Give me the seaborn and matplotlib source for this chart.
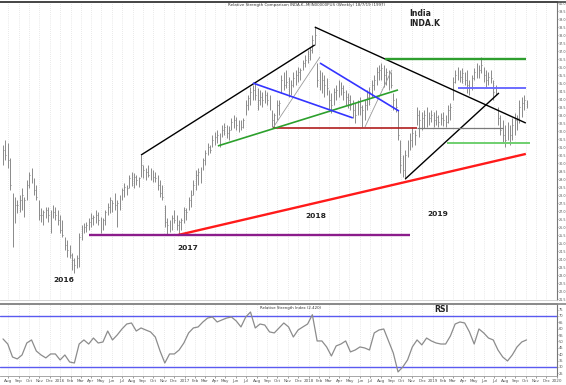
import numpy as np
import pandas as pd
import matplotlib
matplotlib.use("Agg")
import matplotlib.pyplot as plt
import matplotlib.dates as mdates
import matplotlib.ticker as mticker
import seaborn as sns
from matplotlib.lines import Line2D

sns.set_style("white")
plt.rcParams["font.family"] = ["DejaVu Sans"]

# ---------------- data ----------------
start_date = "2015-07-17"

high = [31.14, 31.45, 31.26, 30.33, 28.14, 27.89, 27.70, 28.01, 28.45, 27.89,
        28.95, 29.45, 29.70, 29.08, 28.64, 27.70, 27.20, 27.08, 27.26, 27.26,
        27.08, 27.39, 27.26, 27.08, 26.76, 26.45, 25.39, 25.20, 24.89, 24.39,
        24.08, 24.26, 25.64, 26.14, 26.26, 26.33, 26.58, 26.89, 26.76, 27.08,
        26.95, 26.64, 26.58, 27.08, 27.51, 27.89, 27.70, 28.14, 27.70, 28.01,
        28.45, 28.76, 28.64, 29.26, 29.45, 29.39, 29.26, 29.14, 30.51, 29.89,
        29.70, 29.89, 29.70, 29.58, 29.45, 29.26, 28.95, 28.64, 27.39, 26.58,
        26.45, 26.76, 27.08, 26.76, 26.45, 26.58, 27.26, 27.20, 27.89, 28.33,
        28.95, 29.58, 29.70, 29.76, 30.33, 30.83, 31.26, 31.14, 31.76, 31.95,
        32.08, 31.89, 32.39, 32.51, 32.39, 32.33, 32.83, 33.01, 32.89, 32.70,
        32.70, 32.83, 33.95, 34.26, 34.76, 34.89, 35.08, 34.70, 34.58, 34.45,
        34.58, 34.45, 34.26, 33.33, 33.14, 33.95, 33.95, 35.51, 35.70, 35.83,
        35.39, 35.20, 35.70, 35.83, 36.01, 35.95, 36.45, 36.76, 37.08, 37.26,
        38.01, 38.51, 36.26, 35.83, 35.70, 35.51, 35.33, 34.58, 34.39, 34.70,
        34.89, 35.20, 35.08, 34.89, 34.58, 34.39, 34.26, 33.95, 33.76, 33.95,
        34.14, 33.64, 33.95, 34.58, 34.76, 35.20, 35.51, 36.01, 36.14, 36.26,
        36.14, 35.95, 35.83, 35.70, 34.39, 34.08, 33.33, 31.45, 30.51, 30.83,
        31.45, 31.89, 32.26, 32.08, 33.51, 33.33, 33.20, 33.33, 33.51, 33.20,
        33.33, 33.20, 33.33, 33.01, 33.14, 33.20, 33.01, 33.64, 33.76, 35.39,
        35.83, 36.01, 35.83, 35.95, 35.70, 35.83, 35.20, 35.51, 35.95, 36.26,
        36.14, 36.64, 36.01, 35.83, 35.70, 35.83, 35.20, 34.89, 33.51, 33.01,
        32.70, 32.39, 32.58, 32.39, 32.83, 33.14, 33.01, 33.95, 34.14, 34.26,
        33.95]

low = [29.89, 30.20, 29.70, 28.33, 24.76, 26.26, 26.89, 26.95, 27.08, 26.64,
       27.70, 28.45, 28.76, 28.01, 27.70, 26.45, 26.33, 26.14, 26.58, 26.33,
       25.64, 26.58, 26.45, 26.14, 25.64, 25.39, 24.58, 24.14, 24.08, 23.33,
       23.14, 23.45, 23.51, 25.20, 25.64, 25.70, 25.83, 26.01, 26.14, 26.26,
       26.14, 25.64, 25.83, 26.14, 26.76, 26.89, 26.95, 27.08, 26.01, 27.08,
       27.70, 27.89, 28.01, 28.45, 28.58, 28.45, 28.64, 28.51, 29.14, 29.08,
       28.95, 29.14, 28.95, 28.83, 28.83, 28.33, 27.89, 27.70, 26.01, 25.51,
       25.70, 25.83, 26.26, 25.83, 25.51, 25.83, 26.26, 26.45, 27.08, 27.26,
       28.01, 28.33, 28.64, 28.76, 29.58, 29.89, 30.51, 30.64, 31.01, 31.14,
       31.26, 31.01, 31.64, 31.76, 31.58, 31.45, 32.08, 32.20, 32.08, 31.95,
       32.08, 32.20, 33.01, 33.33, 33.64, 33.95, 33.95, 33.33, 33.64, 33.51,
       33.76, 33.64, 33.33, 32.26, 32.20, 32.70, 33.01, 34.39, 34.58, 34.70,
       34.14, 34.26, 34.76, 34.89, 35.08, 35.20, 35.83, 36.01, 36.26, 36.45,
       36.89, 37.39, 34.76, 34.58, 34.39, 34.14, 34.26, 33.33, 33.14, 33.64,
       33.95, 34.14, 34.26, 33.95, 33.64, 33.45, 33.33, 32.83, 32.51, 33.01,
       33.01, 32.26, 32.70, 33.33, 33.64, 34.14, 34.58, 34.89, 35.20, 35.20,
       34.76, 34.89, 34.58, 34.70, 33.33, 33.20, 31.45, 29.39, 29.14, 29.01,
       30.39, 30.83, 31.01, 31.14, 32.39, 31.64, 32.08, 32.20, 32.26, 32.39,
       32.58, 32.26, 32.39, 32.26, 32.39, 32.33, 32.26, 32.51, 32.70, 33.95,
       35.01, 35.20, 35.08, 35.01, 34.89, 34.39, 34.26, 34.58, 35.20, 35.33,
       35.33, 35.64, 35.08, 34.76, 34.89, 35.01, 33.95, 34.26, 32.39, 31.76,
       31.26, 31.01, 31.45, 31.14, 31.45, 31.76, 32.08, 32.51, 32.89, 33.33,
       33.45]

close = [30.83, 30.51, 30.20, 28.64, 27.08, 27.39, 27.39, 27.70, 28.01, 27.70,
         28.64, 29.26, 28.95, 28.33, 27.89, 26.76, 26.76, 26.95, 27.08, 26.76,
         26.89, 26.95, 26.76, 26.45, 25.83, 25.51, 24.89, 24.58, 24.26, 23.95,
         23.64, 24.08, 25.39, 25.83, 26.01, 26.14, 26.33, 26.58, 26.64, 26.76,
         26.45, 26.14, 26.45, 26.95, 27.26, 27.70, 27.51, 27.39, 27.51, 27.89,
         28.33, 28.51, 28.45, 29.08, 28.95, 29.14, 28.95, 29.08, 29.89, 29.58,
         29.45, 29.26, 29.45, 29.14, 29.08, 28.64, 28.14, 27.89, 26.33, 26.14,
         26.01, 26.58, 26.45, 26.14, 26.33, 26.45, 27.08, 26.95, 27.70, 28.01,
         28.64, 29.26, 29.45, 29.58, 30.20, 30.64, 31.01, 30.83, 31.45, 31.64,
         31.76, 31.64, 32.08, 32.26, 31.89, 32.08, 32.58, 32.70, 32.39, 32.39,
         32.26, 32.70, 33.64, 34.08, 34.45, 34.58, 34.26, 33.95, 34.14, 33.95,
         34.26, 33.95, 33.51, 32.70, 33.01, 33.64, 33.76, 35.20, 34.89, 35.08,
         34.58, 34.89, 35.33, 35.51, 35.70, 35.83, 36.26, 36.45, 36.76, 37.08,
         37.70, 38.01, 35.20, 35.51, 35.20, 34.89, 34.70, 33.95, 33.64, 34.45,
         34.58, 34.76, 34.70, 34.45, 34.14, 33.95, 33.64, 33.33, 33.01, 33.64,
         33.51, 33.33, 33.64, 34.14, 34.45, 34.89, 35.20, 35.70, 35.83, 35.95,
         35.51, 35.70, 35.20, 34.89, 33.95, 33.51, 31.76, 29.89, 29.58, 30.51,
         31.14, 31.45, 31.89, 31.76, 33.01, 32.70, 32.83, 33.01, 32.89, 32.83,
         33.01, 32.70, 32.89, 32.58, 32.83, 32.70, 32.58, 33.33, 33.51, 35.08,
         35.51, 35.70, 35.39, 35.64, 35.20, 34.89, 34.76, 35.33, 35.70, 35.95,
         35.83, 36.14, 35.51, 35.20, 35.39, 35.33, 34.45, 34.58, 32.83, 32.08,
         31.76, 31.45, 32.26, 31.76, 32.39, 32.70, 32.83, 33.51, 33.76, 33.95,
         33.64]

# RSI read every second week
rsi = [52.0, 48.0, 37.8, 36.3, 39.4, 48.8, 51.2, 42.5, 39.4, 37.1,
       40.2, 40.2, 35.5, 39.4, 33.9, 33.1, 48.0, 51.2, 48.0, 52.7,
       48.8, 49.6, 58.2, 51.2, 55.1, 59.8, 63.7, 64.5, 58.2, 60.6,
       59.0, 57.5, 53.5, 42.5, 33.1, 40.2, 40.2, 43.3, 48.8, 56.7,
       60.6, 61.4, 65.3, 68.4, 69.2, 65.3, 66.9, 68.4, 69.2, 66.1,
       61.4, 69.2, 73.1, 60.6, 63.7, 62.9, 57.5, 56.7, 60.6, 64.5,
       61.4, 53.5, 59.0, 61.4, 63.7, 71.0, 50.4, 50.4, 45.7, 38.6,
       46.5, 48.0, 50.4, 41.8, 43.3, 45.7, 44.9, 43.3, 56.7, 59.0,
       59.8, 50.4, 41.0, 26.1, 30.0, 35.5, 45.7, 51.2, 47.3, 52.7,
       50.4, 48.8, 48.0, 48.0, 54.3, 63.7, 65.3, 64.5, 57.5, 48.0,
       59.8, 56.7, 52.7, 51.2, 43.3, 37.8, 34.7, 39.4, 45.7, 49.6,
       51.2]

# trendlines: week index / price of both ends
trend_w0 = [58, 131, 169, 113.4, 152.1, 113.4, 174, 90.3, 105, 133.2, 160.5, 191.2, 186.6, 73.5, 36.1]
trend_p0 = [30.51, 38.51, 29.01, 32.20, 32.26, 32.20, 32.20, 31.08, 35.01, 36.26, 36.51, 34.70, 31.26, 25.51, 25.51]
trend_w1 = [131, 219.7, 208.4, 133.2, 163.4, 174, 210.1, 166, 147, 166.4, 219.7, 219.7, 221.4, 219.7, 171]
trend_p1 = [37.39, 32.51, 34.39, 36.64, 35.83, 32.20, 32.20, 34.58, 32.83, 33.26, 36.51, 34.70, 31.26, 30.58, 25.51]

year_labels = ["2016", "2017", "2018", "2019"]
title_main = "India"
title_ric = "INDA.K"

# ---------------- figure ----------------
W, H = 566, 385
fig = plt.figure(figsize=(W / 100, H / 100), dpi=100)
fig.patch.set_facecolor("white")

def fx(px):
    return px / W

def fy(py):
    return 1 - py / H

ax = fig.add_axes([0, fy(300), fx(557), fy(2) - fy(300)])
ax2 = fig.add_axes([0, fy(376), fx(557), fy(304) - fy(376)])

dates = pd.date_range(start_date, periods=len(high), freq="7D")
dnum = mdates.date2num(dates)
d0 = dnum[0]

def wk(w):
    return d0 + 7 * np.asarray(w, dtype=float)

xmin, xmax = wk(-1.26), wk(232.8)

# monthly grid
months = pd.date_range("2015-07-01", "2020-01-01", freq="MS")
mnum = mdates.date2num(months)
for a in (ax, ax2):
    for m in mnum:
        a.axvline(m, color="#d4d4d4", lw=0.5, ls=(0, (1, 2)), zorder=0)

# price bars
ax.vlines(dnum, low, high, color="#8a8a8a", lw=0.7, zorder=2)
ax.hlines(close, dnum, dnum + 2.6, color="#8a8a8a", lw=0.7, zorder=2)

# trendlines
styles = [("black", 1.0), ("black", 1.0), ("black", 1.0), ("#9a9a9a", 0.6), ("#9a9a9a", 0.6),
          ("#b01e1e", 1.2), ("#7a7a7a", 0.9), ("#2ca02c", 1.2), ("#3434ff", 1.2), ("#3434ff", 1.2),
          ("#2e9e2e", 1.7), ("#6c6cff", 1.4), ("#6fcf6f", 1.4), ("#ff1a1a", 1.7), ("#8b1c8b", 1.7)]
for w0, p0, w1, p1, (c, lw) in zip(trend_w0, trend_p0, trend_w1, trend_p1, styles):
    ax.plot([wk(w0), wk(w1)], [p0, p1], color=c, lw=lw, zorder=3, solid_capstyle="butt")

narrow = ["Liberation Sans Narrow", "DejaVu Sans"]

ax.set_xlim(xmin, xmax)
ax.set_ylim(21.45, 40.075)
ax.yaxis.tick_right()
ax.yaxis.set_major_locator(mticker.MultipleLocator(0.5))
ax.yaxis.set_major_formatter(mticker.FormatStrFormatter("%.1f"))
ax.tick_params(axis="y", labelsize=2.4, length=1.0, width=0.4, pad=0.3, colors="#555555", right=True)
for t in ax.get_yticklabels():
    t.set_family(narrow)
ax.tick_params(axis="x", bottom=False, labelbottom=False)
ax.spines["left"].set_visible(False)
ax.spines["right"].set_color("#777777")
ax.spines["right"].set_linewidth(0.8)
ax.spines["top"].set_color("#444444")
ax.spines["top"].set_linewidth(1.2)
ax.spines["bottom"].set_color("#cccccc")
ax.spines["bottom"].set_linewidth(0.6)

# RSI panel
rsi_df = pd.DataFrame({"date": dnum[::2][:len(rsi)], "rsi": rsi})
sns.lineplot(data=rsi_df, x="date", y="rsi", ax=ax2, color="#8c8c8c", lw=0.9, zorder=3)
ax2.axhline(70, color="#5a5af0", lw=1.0, zorder=2)
ax2.axhline(30, color="#5a5af0", lw=1.0, zorder=2)
ax2.set_xlim(xmin, xmax)
ax2.set_ylim(22.9, 79.4)
ax2.set_xlabel("")
ax2.set_ylabel("")
ax2.yaxis.tick_right()
ax2.yaxis.set_major_locator(mticker.MultipleLocator(5))
ax2.tick_params(axis="y", labelsize=2.6, length=1.0, width=0.4, pad=0.3, colors="#555555", right=True)
ax2.xaxis.set_major_locator(mdates.MonthLocator())

def mfmt(x, pos=None):
    d = mdates.num2date(x)
    return str(d.year) if d.month == 1 else d.strftime("%b")

ax2.xaxis.set_major_formatter(mticker.FuncFormatter(mfmt))
ax2.tick_params(axis="x", labelsize=3, length=1.5, width=0.4, pad=0.6, colors="#555555", bottom=True)
for t in ax2.get_yticklabels() + ax2.get_xticklabels():
    t.set_family(narrow)
ax2.spines["left"].set_visible(False)
ax2.spines["right"].set_color("#777777")
ax2.spines["right"].set_linewidth(0.8)
ax2.spines["top"].set_color("#888888")
ax2.spines["top"].set_linewidth(1.2)
ax2.spines["bottom"].set_color("#999999")
ax2.spines["bottom"].set_linewidth(0.6)

# full-width lines at the top of each panel
fig.add_artist(Line2D([0, 1], [fy(2), fy(2)], color="#444444", lw=1.2))
fig.add_artist(Line2D([0, 1], [fy(304), fy(304)], color="#888888", lw=1.2))

# texts
bold_font = dict(family=narrow, weight="bold", color="#222222")
fig.text(fx(409), fy(13), title_main, ha="left", va="center", fontsize=5.6, **bold_font)
fig.text(fx(409), fy(23), title_ric, ha="left", va="center", fontsize=5.6, **bold_font)
for lab, (px, py) in zip(year_labels, [(64, 280), (188, 248), (316, 216), (438, 214)]):
    fig.text(fx(px), fy(py), lab, ha="center", va="center", fontsize=5.4, **bold_font)
fig.text(fx(441), fy(310), "RSI", ha="center", va="center", fontsize=5.6, **bold_font)

fig.text(fx(228), fy(5), "Relative Strength Comparison INDA.K,.MIIN00000PUS (Weekly) 18/7/19 (1997)",
         ha="left", va="center", fontsize=2.9, color="#333333")
fig.text(fx(260), fy(307.5), "Relative Strength Index (2.420)",
         ha="left", va="center", fontsize=2.8, color="#333333")

fig.savefig("out.png", dpi=100, facecolor="white")
